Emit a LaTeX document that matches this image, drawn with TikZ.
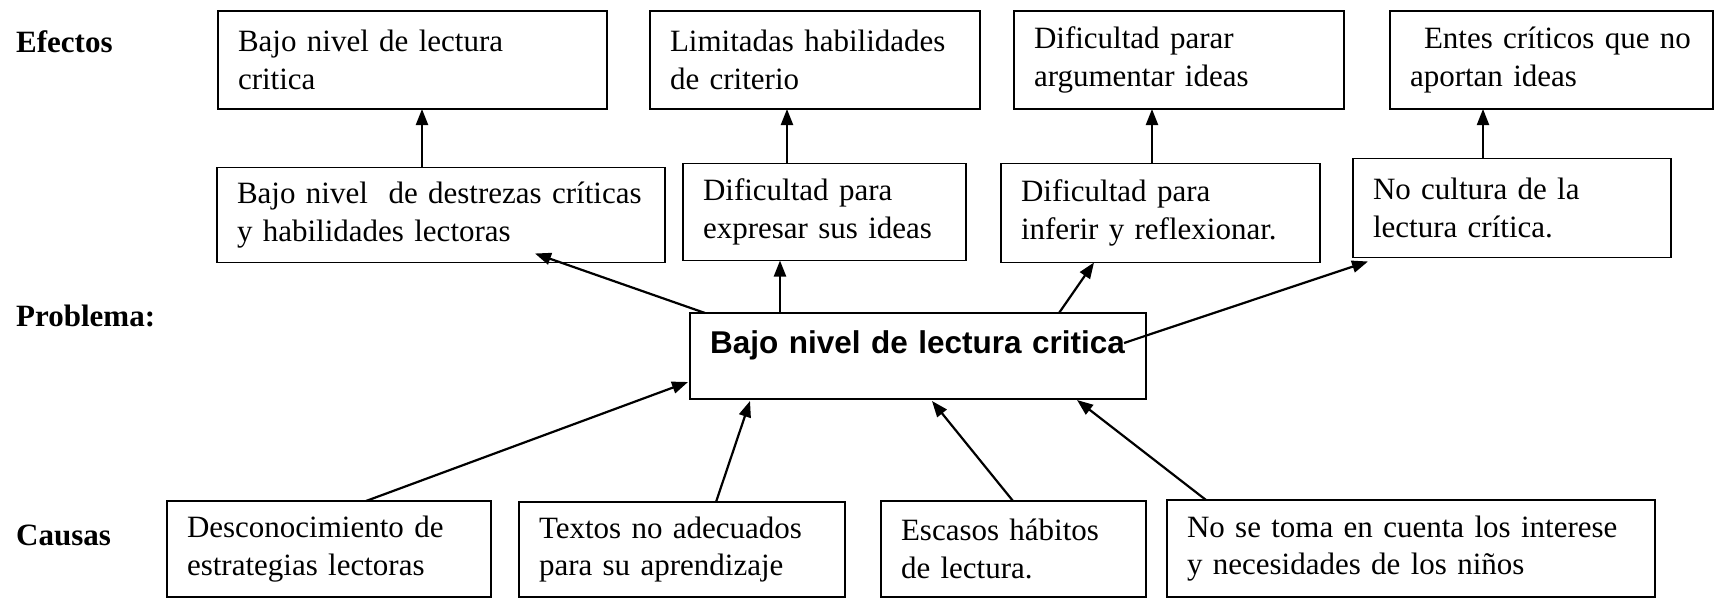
\documentclass[tikz,border=0pt]{standalone}
\usepackage{fontspec}
\setmainfont{Liberation Serif}
\newfontfamily\probfont{Liberation Sans}
\usetikzlibrary{arrows.meta,calc}
\tikzset{
  bx/.style={draw, line width=1.8pt, outer sep=0pt, inner xsep=20pt, inner ysep=0pt, align=left,
    font=\fontsize{31}{37.5}\selectfont},
  lbl/.style={anchor=base west, inner sep=0pt, font=\fontsize{31}{36.5}\selectfont\bfseries},
  arr/.style={line width=2.2pt, -{Triangle[length=16pt,width=12pt]}}
}
\begin{document}
\begin{tikzpicture}[x=1pt,y=-1pt]
\useasboundingbox (0,0) rectangle (1715,597);
% labels
\node[lbl] (lef) at (16,52) {Efectos};
\node[lbl] (lpr) at (16,326) {Problema:};
\node[lbl] (lca) at (16,545) {Causas};
% effects
\node[bx, text width=349pt, minimum height=98pt] (E1) at (412.5,60) {\mbox{Bajo nivel de lectura}\\critica};
\node[bx, text width=290pt, minimum height=98pt] (E2) at (815,60) {\mbox{Limitadas habilidades}\\de criterio};
\node[bx, text width=290pt, minimum height=98pt] (E3) at (1179,60) {\mbox{Dificultad parar}\\\mbox{argumentar ideas}};
\node[bx, text width=283pt, minimum height=98pt] (E4) at (1551.5,60) {\mbox{\hspace*{14pt}Entes críticos que no}\\\mbox{aportan ideas}};
% middle
\node[bx, text width=408pt, minimum height=95pt] (M1) at (441,215) {\mbox{Bajo nivel\ \ de destrezas críticas}\\\mbox{y habilidades lectoras}};
\node[bx, text width=243pt, minimum height=97pt] (M2) at (824.5,212) {\mbox{Dificultad para}\\\mbox{expresar sus ideas}};
\node[bx, text width=279pt, minimum height=99pt] (M3) at (1160.5,213) {\mbox{Dificultad para}\\\mbox{inferir y reflexionar.}};
\node[bx, text width=278pt, minimum height=99pt] (M4) at (1512,208) {\mbox{No cultura de la}\\\mbox{lectura crítica.}};
% problem
\node[bx, text width=416pt, minimum height=86pt, text height=22pt, text depth=28pt,
  font=\probfont\bfseries\fontsize{31.5}{37}\selectfont] (P) at (918,356) {\mbox{Bajo nivel de lectura critica}};
% causes
\node[bx, text width=284pt, minimum height=96pt] (C1) at (329,549) {\mbox{Desconocimiento de}\\\mbox{estrategias lectoras}};
\node[bx, text width=286pt, minimum height=95pt] (C2) at (682,549.5) {\mbox{Textos no adecuados}\\\mbox{para su aprendizaje}};
\node[bx, text width=225pt, minimum height=96pt] (C3) at (1013.5,549) {\mbox{Escasos hábitos}\\\mbox{de lectura.}};
\node[bx, text width=448pt, minimum height=97pt] (C4) at (1411,548.5) {\mbox{No se toma en cuenta los interese}\\\mbox{y necesidades de los niños}};
% arrows middle -> effects
\coordinate (a1) at ($(M1.north west)+(205,0)$);
\coordinate (a2) at ($(M2.north west)+(104,0)$);
\coordinate (a3) at ($(M3.north west)+(151,0)$);
\coordinate (a4) at ($(M4.north west)+(130,0)$);
\draw[arr] (a1) -- (a1 |- E1.south);
\draw[arr] (a2) -- (a2 |- E2.south);
\draw[arr] (a3) -- (a3 |- E3.south);
\draw[arr] (a4) -- (a4 |- E4.south);
% problem -> middle
\coordinate (p1) at ($(P.north west)+(15,0)$);
\coordinate (p2) at ($(P.north west)+(90,0)$);
\coordinate (p3) at ($(P.north west)+(369,0)$);
\coordinate (p4) at ($(P.north west)+(434,30)$);
\draw[arr] (p1) -- ($(M1.south west)+(318,-9)$);
\draw[arr] (p2) -- (p2 |- M2.south);
\draw[arr] (p3) -- ($(M3.south west)+(93,0)$);
\draw[arr] (p4) -- ($(M4.south west)+(15,4)$);
% causes -> problem
\draw[arr] ($(C1.north west)+(199,0)$) -- ($(P.south west)+(-2,-17)$);
\draw[arr] ($(C2.north west)+(197,0)$) -- ($(P.south west)+(60,2)$);
\draw[arr] ($(C3.north west)+(132,0)$) -- ($(P.south west)+(242,2)$);
\draw[arr] ($(C4.north west)+(39,0)$) -- ($(P.south west)+(387,1)$);
\end{tikzpicture}
\end{document}
